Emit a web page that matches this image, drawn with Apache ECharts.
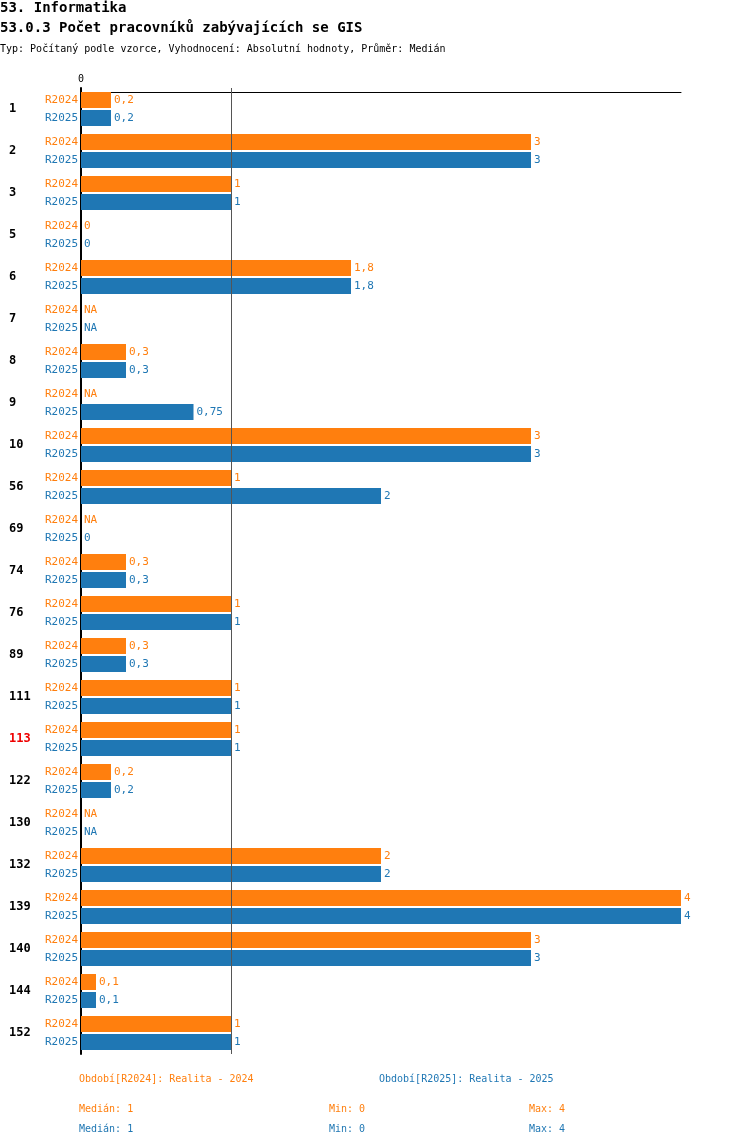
<!DOCTYPE html><html><head><meta charset="utf-8"><script src="https://cdn.jsdelivr.net/npm/echarts@6/dist/echarts.min.js"></script>
<style>body{margin:0;background:#fff}#c{width:750px;height:1148px}</style></head><body><div id="c"></div><script>
const categories=['1','2','3','5','6','7','8','9','10','56','69','74','76','89','111','113','122','130','132','139','140','144','152'];
const r2024=[0.2,3,1,0,1.8,null,0.3,null,3,1,null,0.3,1,0.3,1,1,0.2,null,2,4,3,0.1,1];
const r2025=[0.2,3,1,0,1.8,null,0.3,0.75,3,2,0,0.3,1,0.3,1,1,0.2,null,2,4,3,0.1,1];
const xTicks=['0'];
const O='#ff7f0e',B='#1f77b4',F='DejaVu Sans Mono';
const fmt=v=>String(v).replace('.',',');
const mk=arr=>arr.map(v=>v===null?{value:0,label:{formatter:'NA'}}:{value:v});
const ghost=(name,stack,color)=>({type:'bar',stack,barWidth:16,data:categories.map(()=>0),silent:true,
 label:{show:true,position:'left',formatter:name,color,fontFamily:F,fontSize:11,distance:3},itemStyle:{color:'transparent'}});
const real=(name,stack,color,arr,ml)=>{const s={type:'bar',name,stack,barWidth:16,data:mk(arr),itemStyle:{color},
 label:{show:true,position:'right',distance:3,color,fontFamily:F,fontSize:11,formatter:p=>fmt(p.value)}};
 if(ml)s.markLine={silent:true,symbol:'none',label:{show:false},lineStyle:{color:'#555',type:'solid',width:1},data:[{xAxis:1}]};return s;};
const c=echarts.init(document.getElementById('c'));
c.setOption({animation:false,
grid:{left:81,right:69,top:88,bottom:94},
xAxis:{type:'value',position:'top',min:0,max:4,interval:1,offset:-4,
 axisLine:{show:true,lineStyle:{color:'#000'}},axisTick:{show:false},splitLine:{show:false},
 axisLabel:{fontFamily:F,fontSize:10,color:'#000',formatter:v=>xTicks.includes(String(v))?String(v):''}},
yAxis:{type:'category',data:categories,inverse:true,axisTick:{show:false},
 axisLine:{show:true,lineStyle:{color:'#000',width:2}},
 axisLabel:{margin:72,align:'left',fontFamily:F,fontSize:12,fontWeight:'bold',
  color:(v)=>v==='113'?'#e00':'#000'}},
series:[ghost('R2024','a',O),real('R2024','a',O,r2024,true),ghost('R2025','b',B),real('R2025','b',B,r2025,false)],
barGap:'12.5%',
graphic:[
{type:'text',left:0,top:1,style:{text:'53. Informatika',font:'bold 14px '+F,fill:'#000'}},
{type:'text',left:0,top:21,style:{text:'53.0.3 Počet pracovníků zabývajících se GIS',font:'bold 14px '+F,fill:'#000'}},
{type:'text',left:0,top:44,style:{text:'Typ: Počítaný podle vzorce, Vyhodnocení: Absolutní hodnoty, Průměr: Medián',font:'10px '+F,fill:'#000'}},
{type:'text',left:79,top:1074,style:{text:'Období[R2024]: Realita - 2024',font:'10px '+F,fill:O}},
{type:'text',left:379,top:1074,style:{text:'Období[R2025]: Realita - 2025',font:'10px '+F,fill:B}},
{type:'text',left:79,top:1104,style:{text:'Medián: 1',font:'10px '+F,fill:O}},
{type:'text',left:329,top:1104,style:{text:'Min: 0',font:'10px '+F,fill:O}},
{type:'text',left:529,top:1104,style:{text:'Max: 4',font:'10px '+F,fill:O}},
{type:'text',left:79,top:1124,style:{text:'Medián: 1',font:'10px '+F,fill:B}},
{type:'text',left:329,top:1124,style:{text:'Min: 0',font:'10px '+F,fill:B}},
{type:'text',left:529,top:1124,style:{text:'Max: 4',font:'10px '+F,fill:B}}
]});
</script></body></html>
